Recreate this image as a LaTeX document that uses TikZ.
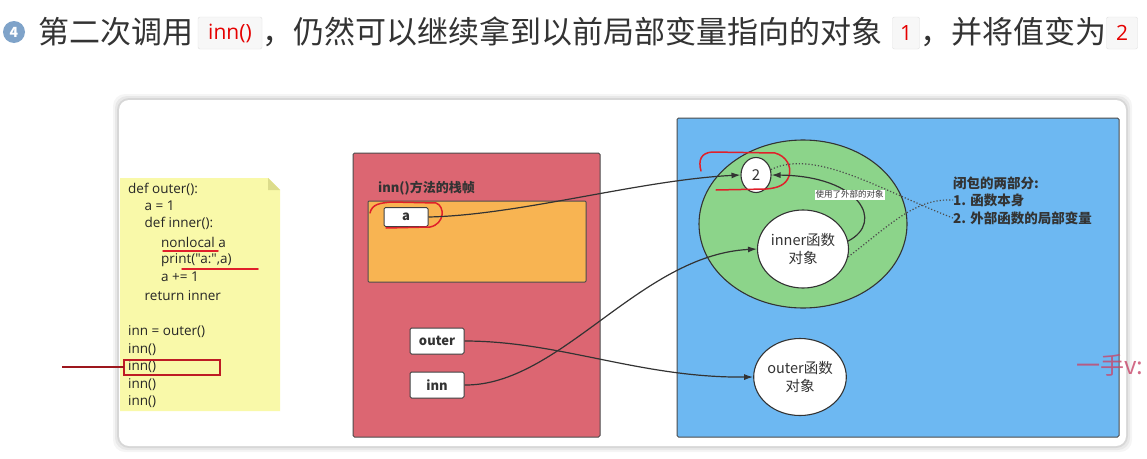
\documentclass[tikz,border=0pt]{standalone}
\usepackage{fontspec}
\setmainfont{Noto Sans CJK SC}
\newfontfamily\codefont{Open Sans}
\usetikzlibrary{arrows.meta, shapes.geometric}

\definecolor{darktext}{HTML}{333333}
\definecolor{stepblue}{HTML}{7FA3C9}
\definecolor{framered}{HTML}{DC6672}
\definecolor{frameorange}{HTML}{F8B452}
\definecolor{heapblue}{HTML}{6DB8F2}
\definecolor{closuregreen}{HTML}{8CD48A}
\definecolor{noteyellow}{HTML}{F9F9A9}
\definecolor{notefold}{HTML}{DCDC8C}
\definecolor{markred}{HTML}{E0202A}
\definecolor{marktext}{HTML}{C8466A}

\tikzset{
  headtext/.style={anchor=west, inner sep=0, text=darktext, font=\fontsize{31}{34}\selectfont},
  codebox/.style={draw=black!12, fill=black!3, rounded corners=2pt, inner sep=0,
    minimum height=32, text=red!90!black, font=\codefont\fontsize{21}{24}\selectfont},
  codeline/.style={anchor=west, inner sep=0, text=black!85, font=\codefont\fontsize{13.5}{14}\selectfont},
  varbox/.style={draw=black!75, fill=white, rounded corners=1.5pt, inner sep=0, line width=1pt,
    text=darktext, font=\bfseries\fontsize{13}{13}\selectfont},
  objcircle/.style={ellipse, draw=black!80, fill=white, line width=1.1pt, inner sep=0, align=center,
    text=darktext, font=\fontsize{14.5}{17.5}\selectfont},
  ptr/.style={-{Latex[length=9pt,width=6pt]}, black!80, line width=1.2pt},
  partline/.style={anchor=west, inner sep=0, text=darktext, font=\bfseries\fontsize{13.5}{13.5}\selectfont},
  redmark/.style={markred, line width=1.5pt, line cap=round}
}

\begin{document}
\begin{tikzpicture}[x=1pt, y=-1pt]
        \useasboundingbox (0,0) rectangle (1147,458);
        \fill[white] (0,0) rectangle (1147,458);

        % heading
        \node[circle, fill=stepblue, text=white, inner sep=0, minimum size=22,
              font=\bfseries\fontsize{14}{14}\selectfont] (stepnum) at (14,32) {4};
        \node[headtext] (head1) at (38,32) {第二次调用};
        \node[codebox, minimum width=64] (codeinn) at (230,33) {inn()};
        \node[headtext] (head2) at (262,32) {，仍然可以继续拿到以前局部变量指向的对象};
        \node[codebox, minimum width=27] (codeone) at (906,33) {1};
        \node[headtext] (head3) at (920,32) {，并将值变为};
        \node[codebox, minimum width=31] (codetwo) at (1122,33) {2};

        % card with shadow
        \foreach \d/\o in {6/0.04, 4/0.05, 2/0.07}
            \fill[black, opacity=\o, rounded corners=12] (119-\d,100-\d) rectangle (1126+\d,446+\d);
        \fill[white, rounded corners=10] (119,100) rectangle (1126,446);

        % code note
        \fill[noteyellow] (120,178) -- (268,178) -- (280,190) -- (280,411) -- (120,411) -- cycle;
        \fill[notefold] (268,178) -- (280,190) -- (268,190) -- cycle;
        \foreach \ind/\row/\txt in {0/189/{def outer():}, 1/206/{a = 1}, 1/223/{def inner():},
                                    2/242/{nonlocal a}, 2/260/{print(\symbol{34}a:\symbol{34},a)}, 2/277/{a += 1},
                                    1/296/{return inner}, 0/332/{inn = outer()}, 0/350/{inn()},
                                    0/367/{inn()}, 0/385/{inn()}, 0/402/{inn()}}
            \node[codeline] (code\row) at (128+16.5*\ind,\row) {\txt};
        \draw[redmark] (163,251) -- (218,251);
        \draw[redmark] (182,269) -- (258,269);
        \draw[markred!85!black, line width=1.5pt] (124,360) rectangle (220,375);
        \draw[markred!70!black, line width=2pt] (62,367) -- (124,367);

        % stack frame
        \draw[black!70, line width=1pt, fill=framered, rounded corners=1.5pt] (353,153) rectangle (600,437);
        \node[anchor=west, inner sep=0, text=darktext, font=\bfseries\fontsize{13}{13}\selectfont]
            (frametitle) at (378,188) {inn()方法的栈帧};
        \draw[black!70, line width=1pt, fill=frameorange, rounded corners=1pt] (368,201) rectangle (586,282);
        \node[varbox, minimum width=44, minimum height=19] (a) at (406,217) {a};
        \node[varbox, minimum width=54, minimum height=26] (outer) at (437,341) {outer};
        \node[varbox, minimum width=54, minimum height=26] (inn) at (437,385) {inn};
        \draw[redmark] (370,213) .. controls (372,204) and (380,203) .. (392,202)
            -- (436,203) .. controls (445,206) and (445,224) .. (430,227) -- (386,228);

        % heap
        \draw[black!70, line width=1pt, fill=heapblue, rounded corners=1.5pt] (677,118) rectangle (1119,437);
        \draw[black!80, line width=1.1pt, fill=closuregreen] (803,224) ellipse [x radius=104, y radius=84];
        \node[objcircle, minimum width=30, minimum height=35, font=\fontsize{15}{15}\selectfont] (two) at (756,175) {2};
        \node[objcircle, minimum width=85, minimum height=78] (inner) at (803,249) {inner函数\\对象};
        \node[objcircle, minimum width=86, minimum height=77] (outerobj) at (800,377) {outer函数\\对象};
        \draw[redmark] (701,171) .. controls (698,160) and (701,153) .. (712,152)
            -- (775,153) .. controls (786,156) and (792,166) .. (789,176)
            .. controls (786,185) and (778,188) .. (766,189) -- (716,190);

        % closure note
        \node[partline] (closuretitle) at (953,183) {闭包的两部分:};
        \node[partline] (part1) at (953,200) {1. 函数本身};
        \node[partline] (part2) at (953,218) {2. 外部函数的局部变量};

        % references
        \draw[ptr] (a.east) .. controls (520,215) and (640,180) .. (two.west);
        \draw[ptr] (inn.east) .. controls (560,386) and (640,255) .. (inner.west);
        \draw[ptr] (outer.east) .. controls (560,341) and (640,378) .. (outerobj.west);
        \draw[ptr] (inner.10) .. controls (885,222) and (860,176) .. (two.east)
            node[pos=0.58, fill=white, inner sep=1pt, text=darktext, font=\fontsize{8.5}{8.5}\selectfont]
            (uselabel) {使用了外部的对象};
        \draw[black!70, line width=1.2pt, dotted] (two.20) .. controls (815,148) and (880,190) .. (part2.west);
        \draw[black!70, line width=1.2pt, dotted] (inner.-10) .. controls (890,225) and (915,198) .. (part1.west);

        % watermark
        \node[anchor=west, inner sep=0, text=marktext, opacity=0.8, font=\fontsize{24}{24}\selectfont]
            (watermark) at (1076,365) {一手v:};
    \end{tikzpicture}
\end{document}
